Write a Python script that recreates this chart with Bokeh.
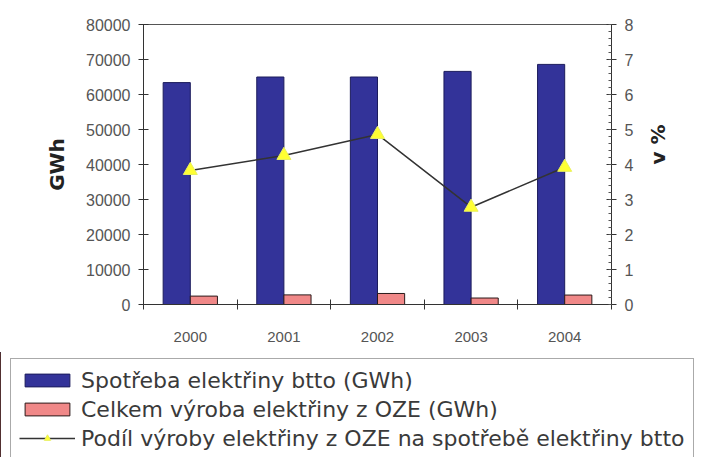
import math
from bokeh.plotting import figure
from bokeh.layouts import column
from bokeh.models import (Range1d, LinearAxis, FixedTicker, Legend,
                          LegendItem, NumeralTickFormatter, ColumnDataSource)
from bokeh.transform import dodge
from bokeh.embed import file_html
from bokeh.resources import INLINE

# ---- data ----
years = ["2000", "2001", "2002", "2003", "2004"]
consumption_gwh = [63400, 65000, 65000, 66600, 68600]
res_production_gwh = [2400, 2750, 3150, 1850, 2700]
res_share_pct = [3.83, 4.26, 4.86, 2.78, 3.92]
gwh_ticks = [0, 10000, 20000, 30000, 40000, 50000, 60000, 70000, 80000]
pct_ticks = [0, 1, 2, 3, 4, 5, 6, 7, 8]
legend_labels = ["Spotřeba elektřiny btto (GWh)",
                 "Celkem výroba elektřiny z OZE (GWh)",
                 "Podíl výroby elektřiny z OZE na spotřebě elektřiny btto"]

# category slots on a numeric axis: slot i spans [i, i+1]
n = len(years)
centers = [i + 0.5 for i in range(n)]
src = ColumnDataSource(dict(xc=centers, years=years, cons=consumption_gwh,
                            res=res_production_gwh, share=res_share_pct))

BLUE, BLUE_EDGE = "#333399", "#1c1c5c"
PINK, PINK_EDGE = "#F08888", "#2a1a1a"
LINE_COL = "#333333"
MK_FILL, MK_EDGE = "#FFFF33", "#E8F060"

p = figure(width=713, height=352, x_range=Range1d(0, n), y_range=Range1d(0, 80000),
           output_backend="svg", toolbar_location=None,
           x_axis_location=None, y_axis_location=None,
           min_border_left=143, min_border_right=102,
           min_border_top=24, min_border_bottom=48)
p.extra_y_ranges = {"pct": Range1d(0, 8)}
p.grid.visible = False
p.outline_line_color = "#555555"
p.outline_line_width = 1
p.background_fill_color = "white"
p.border_fill_color = "white"

tick_font = "Liberation Sans"
axis_col = "#333333"

yl = LinearAxis(ticker=FixedTicker(ticks=gwh_ticks),
                formatter=NumeralTickFormatter(format="0"), axis_label="GWh")
yr = LinearAxis(y_range_name="pct", axis_label="v %",
                ticker=FixedTicker(ticks=pct_ticks,
                                   minor_ticks=[t / 5 for t in range(0, 41)]))
for ax in (yl, yr):
    ax.axis_line_color = axis_col
    ax.major_tick_line_color = axis_col
    ax.major_tick_in = 5
    ax.major_tick_out = 5
    ax.major_label_text_font = tick_font
    ax.major_label_text_font_size = "16px"
    ax.major_label_text_color = "#555555"
    ax.major_label_standoff = 8
    ax.axis_label_text_font = "DejaVu Sans"
    ax.axis_label_text_font_style = "bold"
    ax.axis_label_text_font_size = "20px"
    ax.axis_label_text_color = "#222222"
    ax.axis_label_standoff = 14
yl.minor_tick_line_color = None
yr.minor_tick_line_color = "#555555"
yr.minor_tick_in = 3
yr.minor_tick_out = 0
yr.axis_label_standoff = 22
try:
    yr.axis_label_orientation = math.pi / 2
except Exception:
    pass
p.add_layout(yl, "left")
p.add_layout(yr, "right")

# bottom: tick marks at category boundaries
xt = LinearAxis(ticker=FixedTicker(ticks=list(range(n + 1))))
xt.axis_line_color = axis_col
xt.major_tick_line_color = axis_col
xt.major_tick_in = 5
xt.major_tick_out = 5
xt.minor_tick_line_color = None
xt.major_label_text_color = None
xt.major_label_text_font_size = "1px"
xt.major_label_standoff = 0
p.add_layout(xt, "below")

# bottom: category labels at slot centres
xc = LinearAxis(ticker=FixedTicker(ticks=centers),
                major_label_overrides={c: y for c, y in zip(centers, years)})
xc.axis_line_color = None
xc.major_tick_line_color = None
xc.minor_tick_line_color = None
xc.major_tick_out = 0
xc.major_tick_in = 0
xc.major_label_text_font = tick_font
xc.major_label_text_font_size = "15px"
xc.major_label_text_color = "#555555"
xc.major_label_standoff = 22
p.add_layout(xc, "below")

p.vbar(x=dodge("xc", -0.145), top="cons", width=0.29,
       source=src, fill_color=BLUE, line_color=BLUE_EDGE, line_width=1)
p.vbar(x=dodge("xc", 0.145), top="res", width=0.29,
       source=src, fill_color=PINK, line_color=PINK_EDGE, line_width=1)
p.line(x="xc", y="share", y_range_name="pct", source=src,
       line_color=LINE_COL, line_width=1.5)
p.scatter(x="xc", y="share", y_range_name="pct", source=src,
          marker="triangle", size=14, fill_color=MK_FILL,
          line_color=MK_EDGE, line_width=1)

# ---- legend panel (separate canvas under the chart) ----
lg = figure(width=713, height=105, x_range=Range1d(100, 101), y_range=Range1d(0, 1),
            output_backend="svg", toolbar_location=None,
            x_axis_location=None, y_axis_location=None,
            min_border_left=0, min_border_right=0, min_border_top=0, min_border_bottom=0)
lg.grid.visible = False
lg.outline_line_color = None
lg.background_fill_color = "white"
lg.border_fill_color = "white"
for fig in (p, lg):
    try:
        fig.frame_align = False
    except Exception:
        pass
r1 = lg.vbar(x="xc", top="cons", width=0.29, source=src,
             fill_color=BLUE, line_color=BLUE_EDGE, line_width=1)
r2 = lg.vbar(x="xc", top="res", width=0.29, source=src,
             fill_color=PINK, line_color=PINK_EDGE, line_width=1)
r3 = lg.line(x="xc", y="share", source=src, line_color=LINE_COL, line_width=1.5)
r4 = lg.scatter(x="xc", y="share", source=src, marker="triangle", size=14,
                fill_color=MK_FILL, line_color=MK_EDGE, line_width=1)

legend = Legend(items=[LegendItem(label=legend_labels[0], renderers=[r1]),
                       LegendItem(label=legend_labels[1], renderers=[r2]),
                       LegendItem(label=legend_labels[2], renderers=[r3, r4])],
                location=(10, -3))
legend.border_line_color = "#555555"
legend.border_line_width = 1
legend.background_fill_color = "white"
legend.background_fill_alpha = 1
legend.label_text_font = "DejaVu Sans"
legend.label_text_font_size = "22px"
legend.label_text_color = "#3a3a3a"
legend.glyph_width = 56
legend.glyph_height = 16
legend.label_height = 26
legend.spacing = 3
legend.padding = 8
legend.label_standoff = 6
legend.margin = 0
lg.add_layout(legend, "center")

layout = column(p, lg, spacing=0)
open("out.html", "w").write(file_html(layout, INLINE))
